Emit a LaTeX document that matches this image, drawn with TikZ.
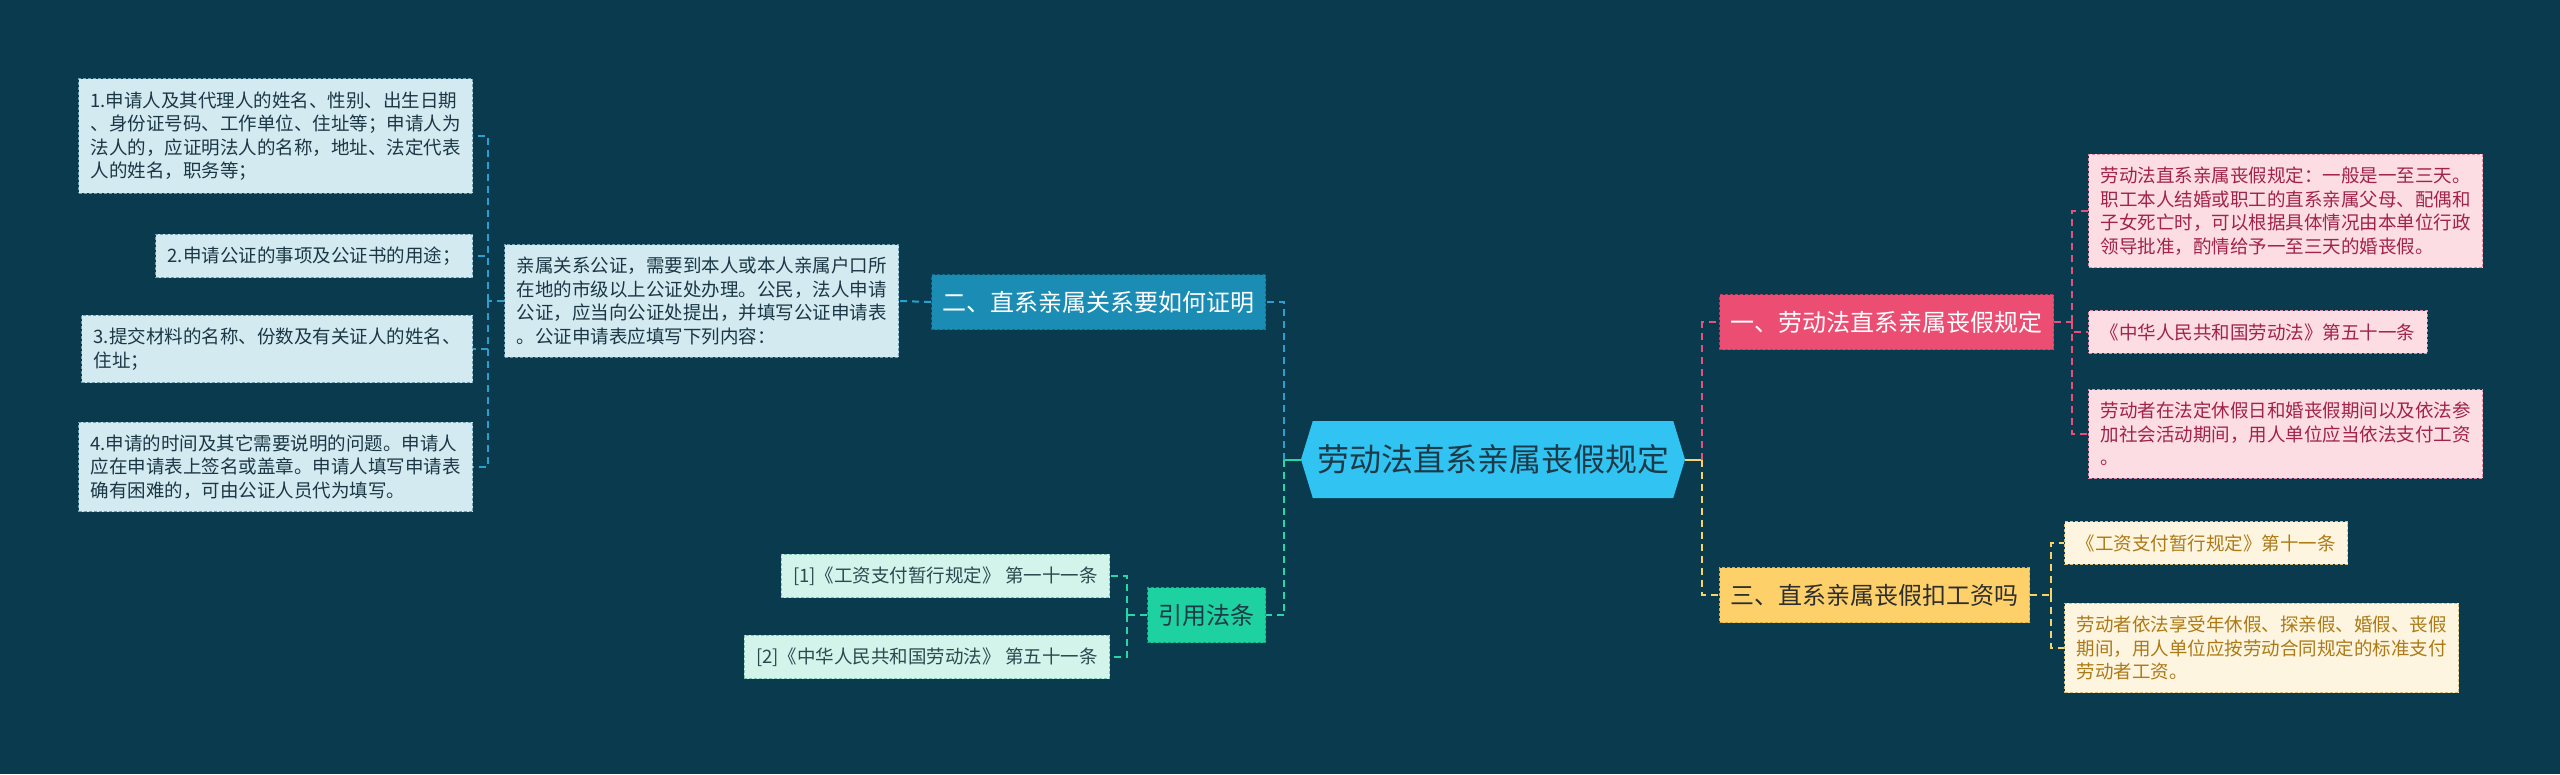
\documentclass[tikz,border=0pt]{standalone}
\usepackage{fontspec}
\setmainfont{Noto Sans CJK SC}
\usetikzlibrary{shapes.symbols}
\definecolor{bg}{HTML}{0A3A4E}
\definecolor{lbfill}{HTML}{D3EAF1}
\definecolor{lbdraw}{HTML}{6E9FB2}
\definecolor{lbtext}{HTML}{1B3745}
\definecolor{erfill}{HTML}{1B8DB5}
\definecolor{erdraw}{HTML}{0F6A8C}
\definecolor{cenfill}{HTML}{31C3F1}
\definecolor{centext}{HTML}{1D3A48}
\definecolor{yifill}{HTML}{EC4E73}
\definecolor{yidraw}{HTML}{C23A5C}
\definecolor{pkfill}{HTML}{FCDDE4}
\definecolor{pkdraw}{HTML}{E48AA2}
\definecolor{pktext}{HTML}{A1234A}
\definecolor{sanfill}{HTML}{FDD06A}
\definecolor{sandraw}{HTML}{D9A93A}
\definecolor{santext}{HTML}{2E2E2E}
\definecolor{ywfill}{HTML}{FDF5E0}
\definecolor{ywdraw}{HTML}{D8C07A}
\definecolor{ywtext}{HTML}{AD7A16}
\definecolor{gnfill}{HTML}{1ED1A0}
\definecolor{gndraw}{HTML}{12A57D}
\definecolor{gnlfill}{HTML}{D2F4EB}
\definecolor{gnldraw}{HTML}{7CC6B2}
\definecolor{gntext}{HTML}{2A4A50}
\definecolor{cblue}{HTML}{2A9FD0}
\definecolor{cgreen}{HTML}{2BD6A6}
\definecolor{cpink}{HTML}{E8507A}
\definecolor{cyellow}{HTML}{F7D36B}
\tikzset{
  leaf/.style={dash pattern=on 3pt off 2pt, line width=1pt, align=left, inner xsep=12pt, inner ysep=12.5pt,
    font=\fontsize{18.5}{23.5}\selectfont},
  leafblue/.style={leaf, fill=lbfill, draw=lbdraw, text=lbtext},
  leafpink/.style={leaf, fill=pkfill, draw=pkdraw, text=pktext},
  leafyel/.style={leaf, fill=ywfill, draw=ywdraw, text=ywtext},
  leafgrn/.style={leaf, fill=gnlfill, draw=gnldraw, text=gntext},
  branch/.style={dash pattern=on 3pt off 2pt, line width=1pt, inner xsep=11pt, minimum height=55pt,
    font=\fontsize{24}{28}\selectfont},
  conn/.style={line width=2pt, dash pattern=on 7pt off 5pt},
  stub/.style={line width=2pt}
}
\begin{document}
\begin{tikzpicture}[x=1pt,y=-1pt]
\fill[bg] (0,0) rectangle (2560,774);
\useasboundingbox (0,0) rectangle (2560,774);

% central
\node[signal, signal to=west and east, signal pointer angle=146, fill=cenfill, text=centext,
  minimum width=384pt, minimum height=77pt, inner xsep=4pt, font=\fontsize{32}{36}\selectfont] (cen) at (1493,459.5) {劳动法直系亲属丧假规定};

% branches
\node[branch, fill=erfill, draw=erdraw, text=white, anchor=east] (er) at (1266,302) {二、直系亲属关系要如何证明};
\node[branch, fill=gnfill, draw=gndraw, text=centext, anchor=east] (yin) at (1266,615) {引用法条};
\node[branch, fill=yifill, draw=yidraw, text=white, anchor=west] (yi) at (1719,322) {一、劳动法直系亲属丧假规定};
\node[branch, fill=sanfill, draw=sandraw, text=santext, anchor=west] (san) at (1719,595) {三、直系亲属丧假扣工资吗};

% left leaves
\node[leafblue, anchor=west] (qin) at (504,301) {亲属关系公证，需要到本人或本人亲属户口所\\在地的市级以上公证处办理。公民，法人申请\\公证，应当向公证处提出，并填写公证申请表\\。公证申请表应填写下列内容：};
\node[leafblue, anchor=east] (c1) at (473,136) {1.申请人及其代理人的姓名、性别、出生日期\\、身份证号码、工作单位、住址等；申请人为\\法人的，应证明法人的名称，地址、法定代表\\人的姓名，职务等；};
\node[leafblue, anchor=east] (c2) at (473,256) {2.申请公证的事项及公证书的用途；};
\node[leafblue, anchor=east] (c3) at (473,349) {3.提交材料的名称、份数及有关证人的姓名、\\住址；};
\node[leafblue, anchor=east] (c4) at (473,467) {4.申请的时间及其它需要说明的问题。申请人\\应在申请表上签名或盖章。申请人填写申请表\\确有困难的，可由公证人员代为填写。};

\node[leafgrn, anchor=east] (r1) at (1110,576) {[1]《工资支付暂行规定》 第一十一条};
\node[leafgrn, anchor=east] (r2) at (1110,657) {[2]《中华人民共和国劳动法》 第五十一条};

% right leaves
\node[leafpink, anchor=west] (pa) at (2088,211) {劳动法直系亲属丧假规定：一般是一至三天。\\职工本人结婚或职工的直系亲属父母、配偶和\\子女死亡时，可以根据具体情况由本单位行政\\领导批准，酌情给予一至三天的婚丧假。};
\node[leafpink, anchor=west] (pb) at (2088,332) {《中华人民共和国劳动法》第五十一条};
\node[leafpink, anchor=west] (pc) at (2088,434) {劳动者在法定休假日和婚丧假期间以及依法参\\加社会活动期间，用人单位应当依法支付工资\\。};

\node[leafyel, anchor=west] (ya) at (2064,543) {《工资支付暂行规定》第十一条};
\node[leafyel, anchor=west] (yb) at (2064,648) {劳动者依法享受年休假、探亲假、婚假、丧假\\期间，用人单位应按劳动合同规定的标准支付\\劳动者工资。};

% junctions
\coordinate (jC) at (1284,459.5);
\coordinate (jR) at (1702,459.5);
\coordinate (jL) at (488,301);
\coordinate (jY) at (1127,615);
\coordinate (jP) at (2072,322);
\coordinate (jS) at (2051,595);

% connectors
\draw[stub, cgreen] (cen.west) -- (jC);
\draw[conn, cblue] (jC) |- (er.east);
\draw[conn, cgreen] (jC) |- (yin.east);
\draw[stub, cyellow] (cen.east) -- (jR);
\draw[conn, cpink] (jR) |- (yi.west);
\draw[conn, cyellow] (jR) |- (san.west);

\draw[conn, cblue] (er.west) -- (qin.east);
\draw[conn, cblue] (qin.west) -- (jL);
\draw[conn, cblue] (jL) |- (c1.east);
\draw[conn, cblue] (jL) |- (c2.east);
\draw[conn, cblue] (jL) |- (c3.east);
\draw[conn, cblue] (jL) |- (c4.east);

\draw[conn, cgreen] (yin.west) -- (jY);
\draw[conn, cgreen] (jY) |- (r1.east);
\draw[conn, cgreen] (jY) |- (r2.east);

\draw[conn, cpink] (yi.east) -- (jP);
\draw[conn, cpink] (jP) |- (pa.west);
\draw[conn, cpink] (jP) |- (pb.west);
\draw[conn, cpink] (jP) |- (pc.west);

\draw[conn, cyellow] (san.east) -- (jS);
\draw[conn, cyellow] (jS) |- (ya.west);
\draw[conn, cyellow] (jS) |- (yb.west);
\end{tikzpicture}
\end{document}
